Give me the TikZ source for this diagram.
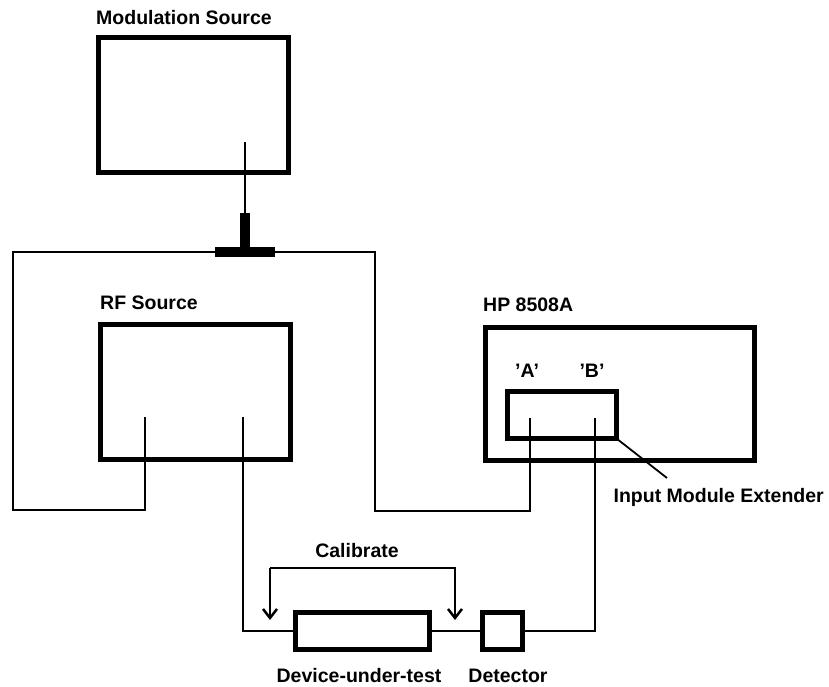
\documentclass[tikz,border=0pt]{standalone}
\usepackage{fontspec}
\setmainfont{Liberation Sans}
\usetikzlibrary{arrows.meta}
\begin{document}
\begin{tikzpicture}[x=1pt,y=-1pt,
  box/.style={draw,line width=5pt,inner sep=0pt,outer sep=0pt},
  wire/.style={line width=2.2pt},
  lbl/.style={inner sep=0pt,font=\fontsize{19.5}{23}\selectfont\bfseries},
  calarrow/.style={line width=2.5pt,-{Straight Barb[length=9pt,width=14pt,line width=2.5pt]}}]
\useasboundingbox (0,0) rectangle (829,686);
% boxes
\node[box,minimum width=190pt,minimum height=135pt] (mod) at (193.5,105) {};
\node[box,minimum width=190pt,minimum height=135pt] (rf) at (195.5,392) {};
\node[box,minimum width=269pt,minimum height=133pt] (hp) at (620,394) {};
\node[box,minimum width=109pt,minimum height=47pt] (ime) at (562,415) {};
\node[box,minimum width=134pt,minimum height=37pt] (dut) at (362.5,631) {};
\node[box,minimum width=40pt,minimum height=37pt] (det) at (502.5,631) {};
% T connector
\node[fill,inner sep=0pt,minimum width=60pt,minimum height=10pt] (tbar) at (245,252) {};
\node[fill,inner sep=0pt,minimum width=10pt,minimum height=39pt,anchor=south] (tstem) at (245,252) {};
% labels
\node[lbl,anchor=base west] (lmod) at (96,24) {Modulation Source};
\node[lbl,anchor=base west] (lrf) at (100,309) {RF Source};
\node[lbl,anchor=base west] (lhp) at (483,311) {HP 8508A};
\node[lbl,anchor=base] (la) at (527,377) {'A'};
\node[lbl,anchor=base] (lb) at (592,377) {'B'};
\node[lbl,anchor=base east] (lime) at (824,502) {Input Module Extender};
\node[lbl,anchor=base] (lcal) at (357,557) {Calibrate};
\node[lbl,anchor=base] (ldut) at (359,682) {Device-under-test};
\node[lbl,anchor=base] (ldet) at (508,682) {Detector};
% ports
\coordinate (modport) at (245,142);
\coordinate (rfA) at (145,417);
\coordinate (rfB) at (243,417);
\coordinate (hpA) at (530,418);
\coordinate (hpB) at (595,418);
\coordinate (imeend) at (667,478);
% wires
\draw[wire] (modport) -- (tstem.north);
\draw[wire] (tbar.west) -- (13,252) -- (13,510) -| (rfA);
\draw[wire] (tbar.east) -- (375,252) -- (375,511) -| (hpA);
\draw[wire] (rfB) |- (dut.west);
\draw[wire] (dut.east) -- (det.west);
\draw[wire] (det.east) -| (hpB);
\draw[line width=1.8pt] (ime.south east) -- (imeend);
% calibrate bracket
\coordinate (calL) at (270,620);
\coordinate (calR) at (455,620);
\draw[calarrow] (270,568) -- (calL);
\draw[calarrow] (270,568) -- (455,568) -- (calR);
\end{tikzpicture}
\end{document}
